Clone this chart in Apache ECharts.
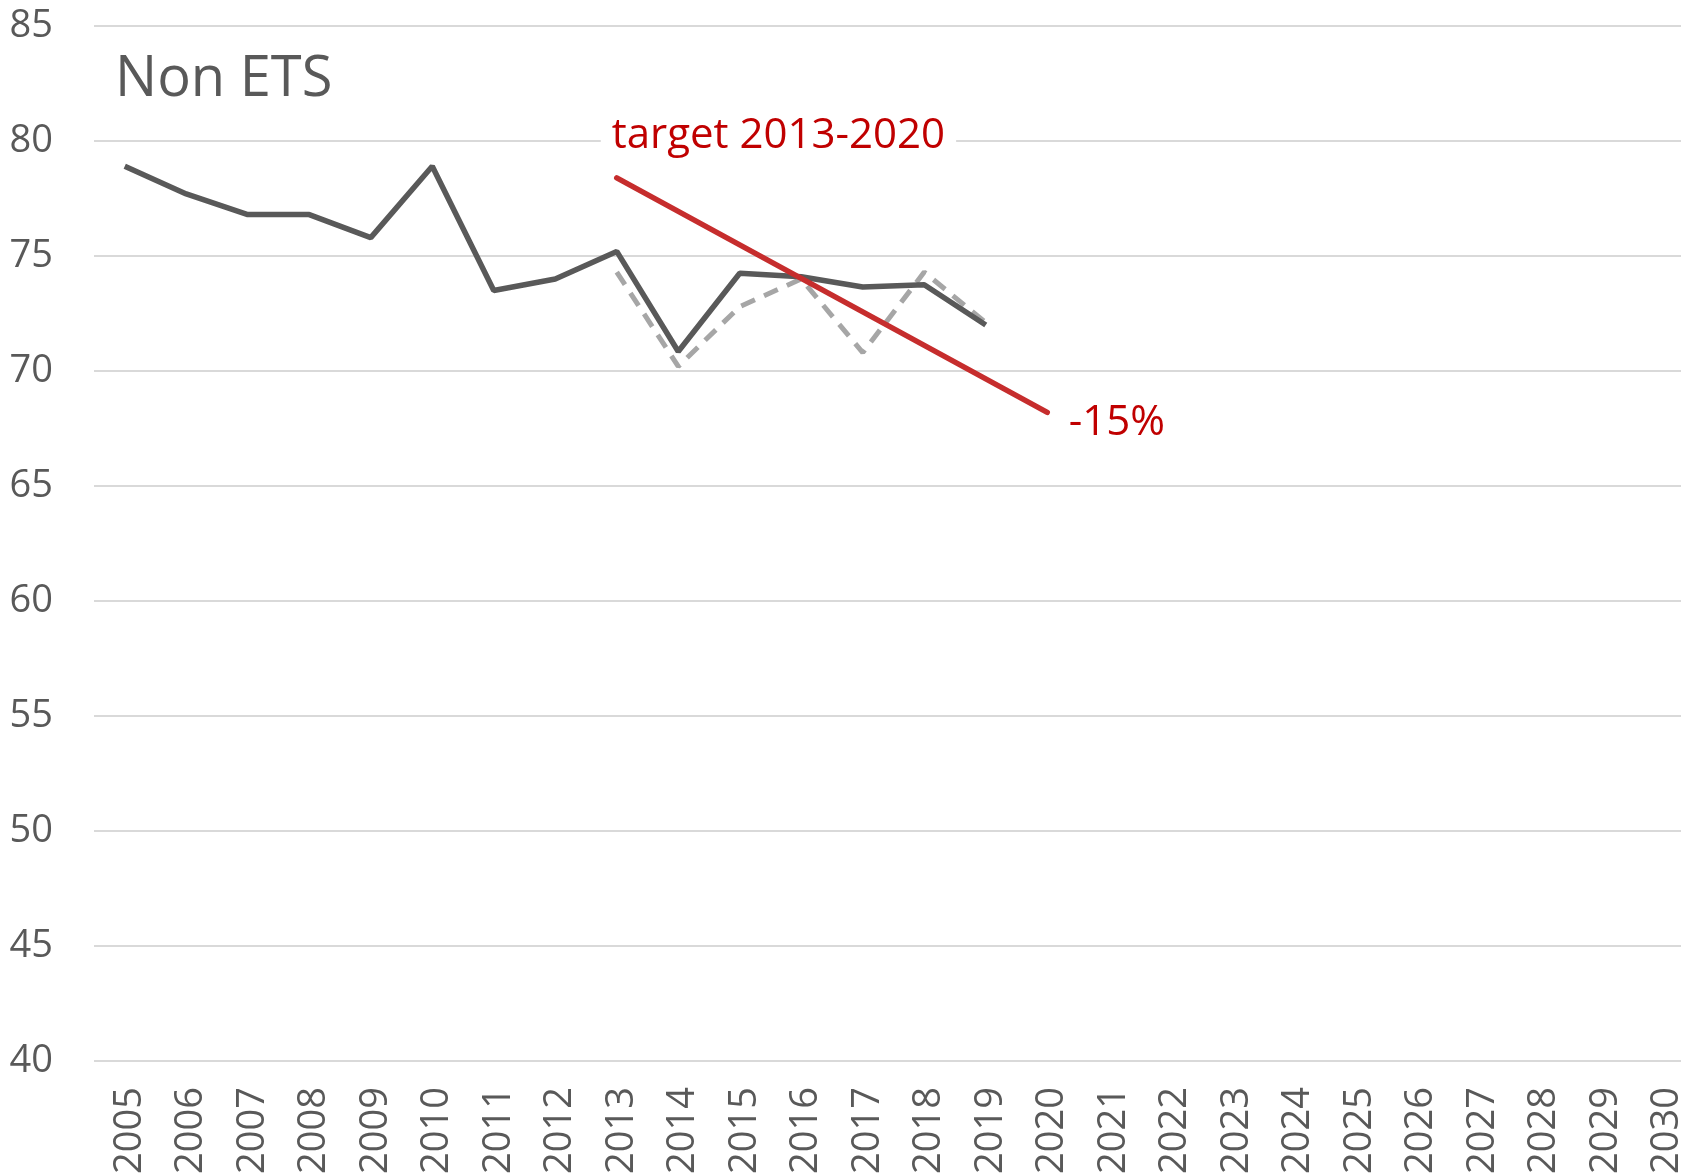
<!DOCTYPE html>
<html>
<head>
<meta charset="utf-8">
<script src="https://cdn.jsdelivr.net/npm/echarts@6/dist/echarts.min.js"></script>
<style>
  html, body { margin: 0; padding: 0; background: #fff; }
  #main { width: 1681px; height: 1175px; }
</style>
</head>
<body>
<div id="main"></div>
<script>
// years on the x axis
var years = [];
for (var y = 2005; y <= 2030; y++) { years.push(String(y)); }

// non ETS emissions (solid dark line)
var emissions = [78.9, 77.7, 76.8, 76.8, 75.8, 78.9, 73.5, 74.0, 75.2, 70.85, 74.25, 74.1, 73.65, 73.75, 72.0];

// alternative estimate (dashed grey), starts 2013
var altEmissions = [null, null, null, null, null, null, null, null, 74.3, 70.2, 72.8, 74.0, 70.8, 74.3, 72.1];

// target path 2013 -> 2020
var targetYears = ['2013', '2020'];
var targetValues = [78.4, 68.2];
var targetLabels = ['target 2013-2020', '-15%'];

var yTicks = { min: 40, max: 85, interval: 5 };

var textGrey = '#595959';
var red = '#C00000';

// target series: only the two end points, joined straight
var targetData = years.map(function (yr) {
	var i = targetYears.indexOf(yr);
	if (i < 0) { return null; }
	var item = { value: targetValues[i], label: { show: true, formatter: targetLabels[i] } };
	if (i == 0) {
		item.label.position = 'top';
		item.label.distance = 0;
		item.label.align = 'left';
		item.label.verticalAlign = 'middle';
		item.label.offset = [-16, -41];
		item.label.backgroundColor = '#fff';
		item.label.padding = [4, 11, 4, 11];
	} else {
		item.label.position = 'right';
		item.label.distance = 0;
		item.label.align = 'left';
		item.label.verticalAlign = 'middle';
		item.label.offset = [21, 11];
	}
	return item;
});

var myChart = echarts.init(document.getElementById('main'));

var option = {
	animation: false,
	backgroundColor: '#fff',
	title: {
		text: 'Non ETS',
		left: 110,
		top: 47,
		textStyle: { fontFamily: 'Open Sans', fontSize: 56, fontWeight: 'normal', color: textGrey }
	},
	grid: { left: 94, right: -12, top: 26, bottom: 114, containLabel: false, outerBoundsMode: 'none' },
	xAxis: {
		type: 'category',
		data: years,
		boundaryGap: true,
		axisLine: { show: false },
		axisTick: { show: false },
		axisLabel: {
			rotate: 90,
			interval: 0,
			margin: 26,
			verticalAlign: 'top',
			lineHeight: 10,
			color: textGrey,
			fontFamily: 'Open Sans',
			fontSize: 38
		}
	},
	yAxis: {
		type: 'value',
		min: yTicks.min,
		max: yTicks.max,
		interval: yTicks.interval,
		axisLine: { show: false },
		axisTick: { show: false },
		axisLabel: { margin: 41, color: textGrey, fontFamily: 'Open Sans', fontSize: 38 },
		splitLine: { lineStyle: { color: '#D9D9D9', width: 2 } }
	},
	series: [
		{
			name: 'alt',
			type: 'line',
			data: altEmissions,
			showSymbol: false,
			lineStyle: { color: '#A6A6A6', width: 5, type: [15, 10] },
			z: 2
		},
		{
			name: 'emissions',
			type: 'line',
			data: emissions,
			showSymbol: false,
			lineStyle: { color: '#595959', width: 5.5 },
			z: 3
		},
		{
			name: 'target',
			type: 'line',
			data: targetData,
			connectNulls: true,
			symbol: 'circle',
			symbolSize: 1,
			itemStyle: { color: '#C62D2D' },
			lineStyle: { color: '#C62D2D', width: 5.5, cap: 'round' },
			label: { color: red, fontFamily: 'Open Sans', fontSize: 42 },
			z: 4
		}
	]
};

myChart.setOption(option);
</script>
</body>
</html>
